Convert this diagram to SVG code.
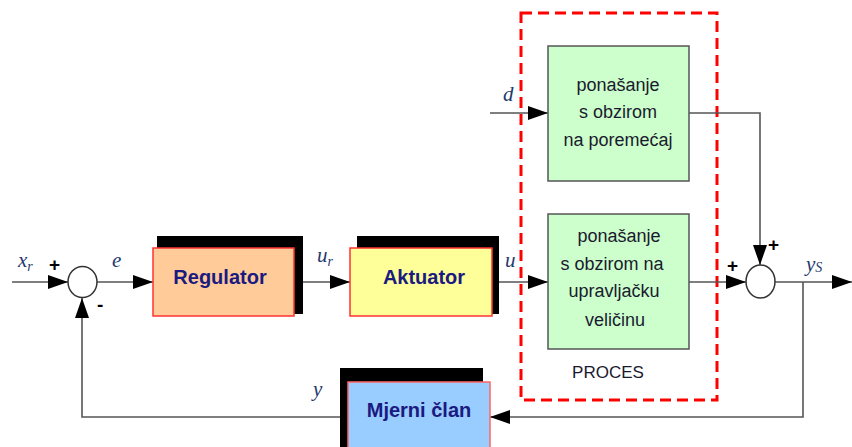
<svg xmlns="http://www.w3.org/2000/svg" width="852" height="447" viewBox="0 0 852 447">
<defs>
<marker id="ah" viewBox="0 0 20 14" refX="20" refY="7" markerWidth="20" markerHeight="14" markerUnits="userSpaceOnUse" orient="auto">
<path d="M0,0 L20,7 L0,14 Z" fill="#000"/>
</marker>
<style>
.ln{fill:none;stroke:#555;stroke-width:1.6}
.arr{marker-end:url(#ah)}
.shadow{fill:#000}
.blk{stroke:#ff3333;stroke-width:1.5}
.btxt{font-family:"Liberation Sans",Arial,sans-serif;font-weight:bold;font-size:20px;fill:#1a1a80;text-anchor:middle}
.gbox{fill:#ccffcc;stroke:#555;stroke-width:1.5}
.gtxt{font-family:"Liberation Sans",Arial,sans-serif;font-size:18px;fill:#1a1a2e;text-anchor:middle}
.sig{font-family:"Liberation Serif","Times New Roman",serif;font-style:italic;font-size:21px;fill:#1f3a6e}
.sub{font-size:14px}
.pm{font-family:"Liberation Sans",Arial,sans-serif;font-weight:bold;font-size:19px;fill:#000}
.sum{fill:#fff;stroke:#333;stroke-width:1.5}
</style>
</defs>
<rect width="852" height="447" fill="#fff"/>

<g id="proces">
<rect x="521" y="13" width="196" height="387" fill="none" stroke="#ff0000" stroke-width="3" stroke-dasharray="11,6"/>
<text x="608" y="378" font-family="'Liberation Sans',Arial,sans-serif" font-size="17px" fill="#1a1a2e" text-anchor="middle">PROCES</text>
</g>

<g id="connectors">
<line class="ln arr" x1="12" y1="282" x2="68" y2="282"/>
<line class="ln arr" x1="97" y1="282" x2="153" y2="282"/>
<line class="ln arr" x1="303" y1="282" x2="350" y2="282"/>
<line class="ln arr" x1="499" y1="282" x2="548" y2="282"/>
<line class="ln arr" x1="490" y1="113" x2="548" y2="113"/>
<polyline class="ln arr" points="689,113 760,113 760,265"/>
<line class="ln arr" x1="689" y1="282" x2="746" y2="282"/>
<line class="ln arr" x1="775" y1="282" x2="852" y2="282"/>
<polyline class="ln arr" points="803,282 803,417 490,417"/>
<polyline class="ln arr" points="340,417 82,417 82,298"/>
</g>

<g id="sum1">
<ellipse class="sum" cx="82.5" cy="282" rx="14.5" ry="15.5"/>
<text class="pm" x="49" y="271">+</text>
<text class="pm" x="97" y="311">-</text>
</g>

<g id="sum2">
<ellipse class="sum" cx="760.5" cy="281.5" rx="14.5" ry="16.5"/>
<text class="pm" x="727" y="272">+</text>
<text class="pm" x="768" y="251">+</text>
</g>

<g id="labels">
<text class="sig" x="18" y="267">x<tspan class="sub" dy="4">r</tspan></text>
<text class="sig" x="112" y="267">e</text>
<text class="sig" x="317" y="262">u<tspan class="sub" dy="4">r</tspan></text>
<text class="sig" x="505" y="267">u</text>
<text class="sig" x="503" y="101">d</text>
<text class="sig" x="806" y="271">y<tspan class="sub" dy="1">S</tspan></text>
<text class="sig" x="313" y="396">y</text>
</g>

<g id="regulator">
<rect class="shadow" x="157" y="236" width="146" height="78"/>
<rect class="blk" x="153" y="248" width="141" height="68" fill="#ffcc99"/>
<text class="btxt" x="220" y="284">Regulator</text>
</g>

<g id="aktuator">
<rect class="shadow" x="357" y="236" width="142" height="78"/>
<rect class="blk" x="350" y="248" width="142" height="68" fill="#ffff99"/>
<text class="btxt" x="424" y="284">Aktuator</text>
</g>

<g id="poremecaj">
<rect class="gbox" x="548" y="46" width="141" height="135"/>
<text class="gtxt" x="618" y="91">ponašanje</text>
<text class="gtxt" x="618" y="118">s obzirom</text>
<text class="gtxt" x="618" y="146">na poremećaj</text>
</g>

<g id="upravljacka">
<rect class="gbox" x="548" y="214" width="141" height="135"/>
<text class="gtxt" x="619" y="242">ponašanje</text>
<text class="gtxt" x="612" y="270">s obzirom na</text>
<text class="gtxt" x="614" y="297">upravljačku</text>
<text class="gtxt" x="615" y="326">veličinu</text>
</g>

<g id="mjerni">
<rect class="shadow" x="340" y="368" width="143" height="79"/>
<rect x="348" y="382" width="142" height="70" fill="#99ccff" stroke="#ff6666" stroke-width="1.5"/>
<text class="btxt" x="419" y="417">Mjerni član</text>
</g>
</svg>
